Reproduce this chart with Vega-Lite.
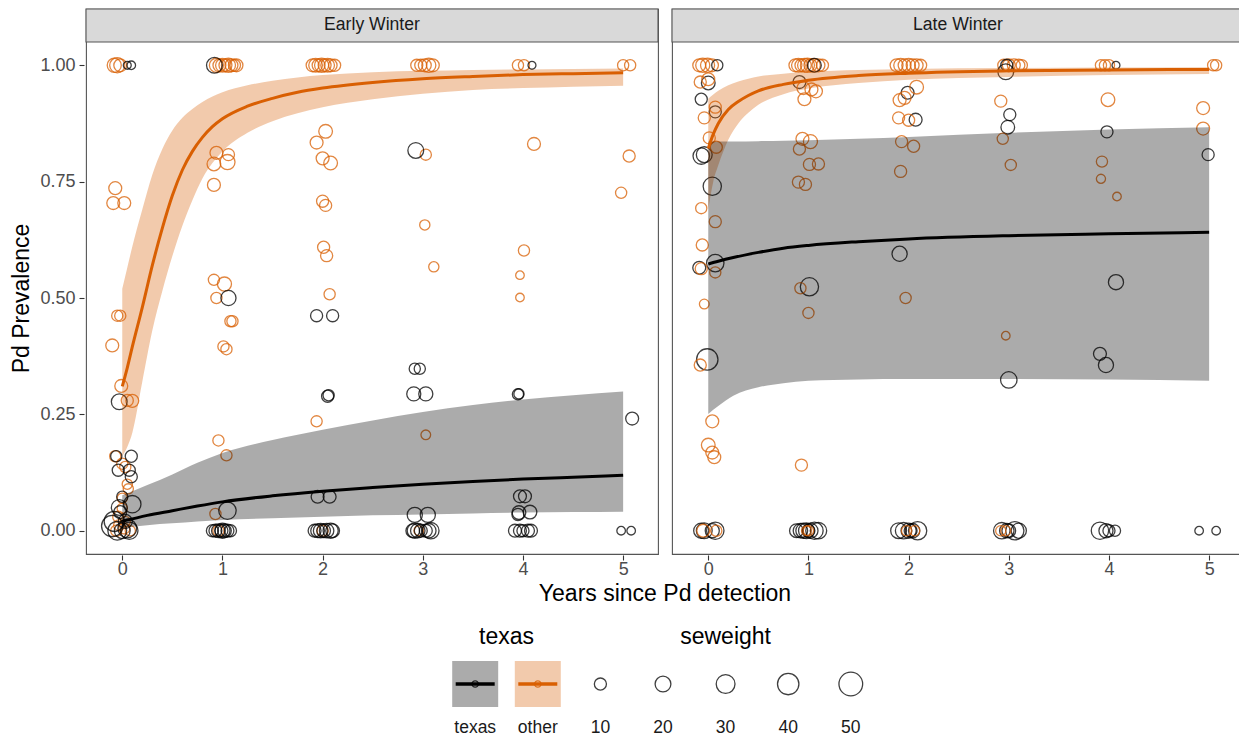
{
"$schema": "https://vega.github.io/schema/vega-lite/v6.json",
"background": "white",
"padding": {"left": 10, "top": 7, "right": 0, "bottom": 0},
"spacing": 14,
"datasets": {
"main": [
{"kind":"strip","season":"Early Winter"},
{"kind":"strip","season":"Late Winter"},
{"kind":"fit","season":"Early Winter","texas":"other","years":0,"est":0.31,"lo":0.16,"hi":0.52},
{"kind":"fit","season":"Early Winter","texas":"other","years":0.05,"est":0.35,"lo":0.18,"hi":0.565},
{"kind":"fit","season":"Early Winter","texas":"other","years":0.1,"est":0.395,"lo":0.21,"hi":0.61},
{"kind":"fit","season":"Early Winter","texas":"other","years":0.2,"est":0.48,"lo":0.32,"hi":0.69},
{"kind":"fit","season":"Early Winter","texas":"other","years":0.3,"est":0.57,"lo":0.43,"hi":0.765},
{"kind":"fit","season":"Early Winter","texas":"other","years":0.4,"est":0.65,"lo":0.515,"hi":0.82},
{"kind":"fit","season":"Early Winter","texas":"other","years":0.5,"est":0.72,"lo":0.59,"hi":0.86},
{"kind":"fit","season":"Early Winter","texas":"other","years":0.6,"est":0.775,"lo":0.655,"hi":0.887},
{"kind":"fit","season":"Early Winter","texas":"other","years":0.7,"est":0.815,"lo":0.71,"hi":0.906},
{"kind":"fit","season":"Early Winter","texas":"other","years":0.8,"est":0.845,"lo":0.757,"hi":0.921},
{"kind":"fit","season":"Early Winter","texas":"other","years":0.9,"est":0.868,"lo":0.79,"hi":0.933},
{"kind":"fit","season":"Early Winter","texas":"other","years":1.0,"est":0.885,"lo":0.815,"hi":0.942},
{"kind":"fit","season":"Early Winter","texas":"other","years":1.25,"est":0.912,"lo":0.855,"hi":0.957},
{"kind":"fit","season":"Early Winter","texas":"other","years":1.5,"est":0.929,"lo":0.88,"hi":0.967},
{"kind":"fit","season":"Early Winter","texas":"other","years":1.75,"est":0.942,"lo":0.897,"hi":0.974},
{"kind":"fit","season":"Early Winter","texas":"other","years":2.0,"est":0.951,"lo":0.91,"hi":0.979},
{"kind":"fit","season":"Early Winter","texas":"other","years":2.5,"est":0.963,"lo":0.927,"hi":0.985},
{"kind":"fit","season":"Early Winter","texas":"other","years":3.0,"est":0.971,"lo":0.939,"hi":0.988},
{"kind":"fit","season":"Early Winter","texas":"other","years":3.5,"est":0.976,"lo":0.947,"hi":0.99},
{"kind":"fit","season":"Early Winter","texas":"other","years":4.0,"est":0.98,"lo":0.951,"hi":0.991},
{"kind":"fit","season":"Early Winter","texas":"other","years":4.5,"est":0.982,"lo":0.954,"hi":0.992},
{"kind":"fit","season":"Early Winter","texas":"other","years":5.0,"est":0.984,"lo":0.956,"hi":0.993},
{"kind":"fit","season":"Early Winter","texas":"texas","years":0,"est":0.02,"lo":0.006,"hi":0.076},
{"kind":"fit","season":"Early Winter","texas":"texas","years":0.25,"est":0.033,"lo":0.012,"hi":0.098},
{"kind":"fit","season":"Early Winter","texas":"texas","years":0.5,"est":0.043,"lo":0.016,"hi":0.121},
{"kind":"fit","season":"Early Winter","texas":"texas","years":0.75,"est":0.053,"lo":0.02,"hi":0.146},
{"kind":"fit","season":"Early Winter","texas":"texas","years":1.0,"est":0.062,"lo":0.023,"hi":0.167},
{"kind":"fit","season":"Early Winter","texas":"texas","years":1.5,"est":0.075,"lo":0.027,"hi":0.195},
{"kind":"fit","season":"Early Winter","texas":"texas","years":2.0,"est":0.085,"lo":0.03,"hi":0.217},
{"kind":"fit","season":"Early Winter","texas":"texas","years":2.5,"est":0.093,"lo":0.033,"hi":0.237},
{"kind":"fit","season":"Early Winter","texas":"texas","years":3.0,"est":0.1,"lo":0.035,"hi":0.255},
{"kind":"fit","season":"Early Winter","texas":"texas","years":3.5,"est":0.106,"lo":0.037,"hi":0.27},
{"kind":"fit","season":"Early Winter","texas":"texas","years":4.0,"est":0.111,"lo":0.039,"hi":0.282},
{"kind":"fit","season":"Early Winter","texas":"texas","years":4.5,"est":0.115,"lo":0.04,"hi":0.291},
{"kind":"fit","season":"Early Winter","texas":"texas","years":5.0,"est":0.119,"lo":0.041,"hi":0.299},
{"kind":"fit","season":"Late Winter","texas":"other","years":0,"est":0.821,"lo":0.69,"hi":0.928},
{"kind":"fit","season":"Late Winter","texas":"other","years":0.05,"est":0.852,"lo":0.75,"hi":0.937},
{"kind":"fit","season":"Late Winter","texas":"other","years":0.1,"est":0.875,"lo":0.785,"hi":0.945},
{"kind":"fit","season":"Late Winter","texas":"other","years":0.2,"est":0.905,"lo":0.84,"hi":0.957},
{"kind":"fit","season":"Late Winter","texas":"other","years":0.3,"est":0.922,"lo":0.875,"hi":0.965},
{"kind":"fit","season":"Late Winter","texas":"other","years":0.4,"est":0.935,"lo":0.898,"hi":0.971},
{"kind":"fit","season":"Late Winter","texas":"other","years":0.5,"est":0.945,"lo":0.915,"hi":0.976},
{"kind":"fit","season":"Late Winter","texas":"other","years":0.75,"est":0.959,"lo":0.938,"hi":0.982},
{"kind":"fit","season":"Late Winter","texas":"other","years":1.0,"est":0.968,"lo":0.95,"hi":0.986},
{"kind":"fit","season":"Late Winter","texas":"other","years":1.5,"est":0.978,"lo":0.962,"hi":0.99},
{"kind":"fit","season":"Late Winter","texas":"other","years":2.0,"est":0.983,"lo":0.969,"hi":0.992},
{"kind":"fit","season":"Late Winter","texas":"other","years":3.0,"est":0.988,"lo":0.975,"hi":0.994},
{"kind":"fit","season":"Late Winter","texas":"other","years":4.0,"est":0.99,"lo":0.979,"hi":0.995},
{"kind":"fit","season":"Late Winter","texas":"other","years":5.0,"est":0.991,"lo":0.981,"hi":0.996},
{"kind":"fit","season":"Late Winter","texas":"texas","years":0,"est":0.573,"lo":0.251,"hi":0.836},
{"kind":"fit","season":"Late Winter","texas":"texas","years":0.1,"est":0.579,"lo":0.268,"hi":0.836},
{"kind":"fit","season":"Late Winter","texas":"texas","years":0.25,"est":0.587,"lo":0.29,"hi":0.836},
{"kind":"fit","season":"Late Winter","texas":"texas","years":0.5,"est":0.598,"lo":0.308,"hi":0.837},
{"kind":"fit","season":"Late Winter","texas":"texas","years":0.75,"est":0.607,"lo":0.317,"hi":0.838},
{"kind":"fit","season":"Late Winter","texas":"texas","years":1.0,"est":0.613,"lo":0.322,"hi":0.839},
{"kind":"fit","season":"Late Winter","texas":"texas","years":1.5,"est":0.621,"lo":0.325,"hi":0.842},
{"kind":"fit","season":"Late Winter","texas":"texas","years":2.0,"est":0.627,"lo":0.326,"hi":0.846},
{"kind":"fit","season":"Late Winter","texas":"texas","years":3.0,"est":0.634,"lo":0.326,"hi":0.855},
{"kind":"fit","season":"Late Winter","texas":"texas","years":4.0,"est":0.638,"lo":0.325,"hi":0.862},
{"kind":"fit","season":"Late Winter","texas":"texas","years":5.0,"est":0.641,"lo":0.322,"hi":0.867},
{"kind":"obs","season":"Early Winter","texas":"other","years":-0.08,"prev":1,"seweight":15},
{"kind":"obs","season":"Early Winter","texas":"other","years":-0.05,"prev":1,"seweight":18},
{"kind":"obs","season":"Early Winter","texas":"other","years":-0.02,"prev":1,"seweight":12},
{"kind":"obs","season":"Early Winter","texas":"other","years":0.94,"prev":1,"seweight":15},
{"kind":"obs","season":"Early Winter","texas":"other","years":0.97,"prev":1,"seweight":12},
{"kind":"obs","season":"Early Winter","texas":"other","years":1.0,"prev":1,"seweight":14},
{"kind":"obs","season":"Early Winter","texas":"other","years":1.03,"prev":1,"seweight":12},
{"kind":"obs","season":"Early Winter","texas":"other","years":1.06,"prev":1,"seweight":15},
{"kind":"obs","season":"Early Winter","texas":"other","years":1.09,"prev":1,"seweight":12},
{"kind":"obs","season":"Early Winter","texas":"other","years":1.12,"prev":1,"seweight":10},
{"kind":"obs","season":"Early Winter","texas":"other","years":1.14,"prev":1,"seweight":12},
{"kind":"obs","season":"Early Winter","texas":"other","years":1.9,"prev":1,"seweight":12},
{"kind":"obs","season":"Early Winter","texas":"other","years":1.93,"prev":1,"seweight":14},
{"kind":"obs","season":"Early Winter","texas":"other","years":1.96,"prev":1,"seweight":12},
{"kind":"obs","season":"Early Winter","texas":"other","years":1.99,"prev":1,"seweight":15},
{"kind":"obs","season":"Early Winter","texas":"other","years":2.02,"prev":1,"seweight":12},
{"kind":"obs","season":"Early Winter","texas":"other","years":2.05,"prev":1,"seweight":14},
{"kind":"obs","season":"Early Winter","texas":"other","years":2.08,"prev":1,"seweight":12},
{"kind":"obs","season":"Early Winter","texas":"other","years":2.12,"prev":1,"seweight":10},
{"kind":"obs","season":"Early Winter","texas":"other","years":2.94,"prev":1,"seweight":10},
{"kind":"obs","season":"Early Winter","texas":"other","years":2.98,"prev":1,"seweight":10},
{"kind":"obs","season":"Early Winter","texas":"other","years":3.02,"prev":1,"seweight":12},
{"kind":"obs","season":"Early Winter","texas":"other","years":3.06,"prev":1,"seweight":15},
{"kind":"obs","season":"Early Winter","texas":"other","years":3.1,"prev":1,"seweight":12},
{"kind":"obs","season":"Early Winter","texas":"other","years":3.95,"prev":1,"seweight":8},
{"kind":"obs","season":"Early Winter","texas":"other","years":4.01,"prev":1,"seweight":8},
{"kind":"obs","season":"Early Winter","texas":"other","years":5.0,"prev":1,"seweight":8},
{"kind":"obs","season":"Early Winter","texas":"other","years":5.07,"prev":1,"seweight":8},
{"kind":"obs","season":"Early Winter","texas":"texas","years":0.05,"prev":1,"seweight":2},
{"kind":"obs","season":"Early Winter","texas":"texas","years":0.09,"prev":1,"seweight":3},
{"kind":"obs","season":"Early Winter","texas":"texas","years":0.92,"prev":1,"seweight":20},
{"kind":"obs","season":"Early Winter","texas":"texas","years":4.09,"prev":1,"seweight":2},
{"kind":"obs","season":"Early Winter","texas":"other","years":-0.07,"prev":0.736,"seweight":12},
{"kind":"obs","season":"Early Winter","texas":"other","years":-0.09,"prev":0.704,"seweight":12},
{"kind":"obs","season":"Early Winter","texas":"other","years":0.02,"prev":0.704,"seweight":12},
{"kind":"obs","season":"Early Winter","texas":"other","years":0.915,"prev":0.743,"seweight":12},
{"kind":"obs","season":"Early Winter","texas":"other","years":0.915,"prev":0.788,"seweight":14},
{"kind":"obs","season":"Early Winter","texas":"other","years":1.05,"prev":0.792,"seweight":18},
{"kind":"obs","season":"Early Winter","texas":"other","years":0.94,"prev":0.812,"seweight":12},
{"kind":"obs","season":"Early Winter","texas":"other","years":1.06,"prev":0.808,"seweight":10},
{"kind":"obs","season":"Early Winter","texas":"other","years":1.94,"prev":0.834,"seweight":12},
{"kind":"obs","season":"Early Winter","texas":"other","years":2.03,"prev":0.858,"seweight":14},
{"kind":"obs","season":"Early Winter","texas":"other","years":2.0,"prev":0.8,"seweight":12},
{"kind":"obs","season":"Early Winter","texas":"other","years":2.08,"prev":0.79,"seweight":14},
{"kind":"obs","season":"Early Winter","texas":"other","years":2.0,"prev":0.708,"seweight":10},
{"kind":"obs","season":"Early Winter","texas":"other","years":2.03,"prev":0.699,"seweight":10},
{"kind":"obs","season":"Early Winter","texas":"other","years":2.01,"prev":0.609,"seweight":10},
{"kind":"obs","season":"Early Winter","texas":"other","years":2.04,"prev":0.591,"seweight":10},
{"kind":"obs","season":"Early Winter","texas":"other","years":2.07,"prev":0.508,"seweight":8},
{"kind":"obs","season":"Early Winter","texas":"other","years":3.03,"prev":0.808,"seweight":8},
{"kind":"obs","season":"Early Winter","texas":"other","years":3.02,"prev":0.657,"seweight":6},
{"kind":"obs","season":"Early Winter","texas":"other","years":3.11,"prev":0.567,"seweight":6},
{"kind":"obs","season":"Early Winter","texas":"other","years":4.11,"prev":0.831,"seweight":12},
{"kind":"obs","season":"Early Winter","texas":"other","years":4.01,"prev":0.602,"seweight":8},
{"kind":"obs","season":"Early Winter","texas":"other","years":3.97,"prev":0.549,"seweight":3},
{"kind":"obs","season":"Early Winter","texas":"other","years":3.97,"prev":0.501,"seweight":3},
{"kind":"obs","season":"Early Winter","texas":"other","years":5.06,"prev":0.805,"seweight":10},
{"kind":"obs","season":"Early Winter","texas":"other","years":4.98,"prev":0.726,"seweight":8},
{"kind":"obs","season":"Early Winter","texas":"other","years":0.915,"prev":0.539,"seweight":8},
{"kind":"obs","season":"Early Winter","texas":"other","years":1.02,"prev":0.53,"seweight":15},
{"kind":"obs","season":"Early Winter","texas":"other","years":0.94,"prev":0.5,"seweight":8},
{"kind":"obs","season":"Early Winter","texas":"other","years":-0.05,"prev":0.462,"seweight":8},
{"kind":"obs","season":"Early Winter","texas":"other","years":-0.02,"prev":0.462,"seweight":8},
{"kind":"obs","season":"Early Winter","texas":"other","years":1.08,"prev":0.45,"seweight":8},
{"kind":"obs","season":"Early Winter","texas":"other","years":1.1,"prev":0.45,"seweight":8},
{"kind":"obs","season":"Early Winter","texas":"other","years":1.01,"prev":0.396,"seweight":8},
{"kind":"obs","season":"Early Winter","texas":"other","years":1.04,"prev":0.39,"seweight":8},
{"kind":"obs","season":"Early Winter","texas":"other","years":-0.1,"prev":0.398,"seweight":12},
{"kind":"obs","season":"Early Winter","texas":"other","years":-0.01,"prev":0.311,"seweight":12},
{"kind":"obs","season":"Early Winter","texas":"other","years":0.05,"prev":0.28,"seweight":10},
{"kind":"obs","season":"Early Winter","texas":"other","years":0.1,"prev":0.279,"seweight":12},
{"kind":"obs","season":"Early Winter","texas":"other","years":0.96,"prev":0.194,"seweight":8},
{"kind":"obs","season":"Early Winter","texas":"other","years":1.04,"prev":0.162,"seweight":8},
{"kind":"obs","season":"Early Winter","texas":"other","years":1.94,"prev":0.235,"seweight":8},
{"kind":"obs","season":"Early Winter","texas":"other","years":3.03,"prev":0.206,"seweight":5},
{"kind":"obs","season":"Early Winter","texas":"other","years":0.93,"prev":0.036,"seweight":8},
{"kind":"obs","season":"Early Winter","texas":"other","years":-0.07,"prev":0.16,"seweight":8},
{"kind":"obs","season":"Early Winter","texas":"other","years":0.0,"prev":0.144,"seweight":8},
{"kind":"obs","season":"Early Winter","texas":"other","years":0.03,"prev":0.137,"seweight":8},
{"kind":"obs","season":"Early Winter","texas":"other","years":0.05,"prev":0.1,"seweight":6},
{"kind":"obs","season":"Early Winter","texas":"other","years":0.06,"prev":0.09,"seweight":6},
{"kind":"obs","season":"Early Winter","texas":"other","years":0.0,"prev":0.07,"seweight":6},
{"kind":"obs","season":"Early Winter","texas":"other","years":0.0,"prev":0.048,"seweight":6},
{"kind":"obs","season":"Early Winter","texas":"other","years":-0.04,"prev":0.03,"seweight":8},
{"kind":"obs","season":"Early Winter","texas":"other","years":0.03,"prev":0.02,"seweight":6},
{"kind":"obs","season":"Early Winter","texas":"other","years":-0.06,"prev":0.0,"seweight":8},
{"kind":"obs","season":"Early Winter","texas":"other","years":0.02,"prev":0.005,"seweight":8},
{"kind":"obs","season":"Early Winter","texas":"other","years":0.08,"prev":0.0,"seweight":6},
{"kind":"obs","season":"Early Winter","texas":"other","years":-0.03,"prev":0.012,"seweight":8},
{"kind":"obs","season":"Early Winter","texas":"other","years":0.96,"prev":0.0,"seweight":8},
{"kind":"obs","season":"Early Winter","texas":"other","years":2.0,"prev":0.0,"seweight":8},
{"kind":"obs","season":"Early Winter","texas":"other","years":2.96,"prev":0.0,"seweight":5},
{"kind":"obs","season":"Early Winter","texas":"texas","years":-0.03,"prev":0.277,"seweight":20},
{"kind":"obs","season":"Early Winter","texas":"texas","years":-0.06,"prev":0.16,"seweight":8},
{"kind":"obs","season":"Early Winter","texas":"texas","years":0.09,"prev":0.16,"seweight":10},
{"kind":"obs","season":"Early Winter","texas":"texas","years":-0.04,"prev":0.13,"seweight":10},
{"kind":"obs","season":"Early Winter","texas":"texas","years":0.07,"prev":0.13,"seweight":10},
{"kind":"obs","season":"Early Winter","texas":"texas","years":0.09,"prev":0.116,"seweight":10},
{"kind":"obs","season":"Early Winter","texas":"texas","years":0.0,"prev":0.073,"seweight":8},
{"kind":"obs","season":"Early Winter","texas":"texas","years":0.1,"prev":0.057,"seweight":25},
{"kind":"obs","season":"Early Winter","texas":"texas","years":-0.03,"prev":0.05,"seweight":20},
{"kind":"obs","season":"Early Winter","texas":"texas","years":-0.08,"prev":0.02,"seweight":35},
{"kind":"obs","season":"Early Winter","texas":"texas","years":-0.1,"prev":0.01,"seweight":40},
{"kind":"obs","season":"Early Winter","texas":"texas","years":-0.05,"prev":0.0,"seweight":30},
{"kind":"obs","season":"Early Winter","texas":"texas","years":0.0,"prev":0.0,"seweight":20},
{"kind":"obs","season":"Early Winter","texas":"texas","years":0.07,"prev":0.0,"seweight":25},
{"kind":"obs","season":"Early Winter","texas":"texas","years":0.03,"prev":0.02,"seweight":15},
{"kind":"obs","season":"Early Winter","texas":"texas","years":-0.02,"prev":0.04,"seweight":12},
{"kind":"obs","season":"Early Winter","texas":"texas","years":0.05,"prev":0.005,"seweight":30},
{"kind":"obs","season":"Early Winter","texas":"texas","years":1.05,"prev":0.043,"seweight":25},
{"kind":"obs","season":"Early Winter","texas":"texas","years":2.93,"prev":0.817,"seweight":20},
{"kind":"obs","season":"Early Winter","texas":"texas","years":1.06,"prev":0.5,"seweight":18},
{"kind":"obs","season":"Early Winter","texas":"texas","years":1.94,"prev":0.462,"seweight":10},
{"kind":"obs","season":"Early Winter","texas":"texas","years":2.1,"prev":0.462,"seweight":10},
{"kind":"obs","season":"Early Winter","texas":"texas","years":2.92,"prev":0.348,"seweight":8},
{"kind":"obs","season":"Early Winter","texas":"texas","years":2.97,"prev":0.348,"seweight":8},
{"kind":"obs","season":"Early Winter","texas":"texas","years":2.91,"prev":0.294,"seweight":15},
{"kind":"obs","season":"Early Winter","texas":"texas","years":3.03,"prev":0.294,"seweight":15},
{"kind":"obs","season":"Early Winter","texas":"texas","years":2.05,"prev":0.289,"seweight":10},
{"kind":"obs","season":"Early Winter","texas":"texas","years":2.06,"prev":0.291,"seweight":8},
{"kind":"obs","season":"Early Winter","texas":"texas","years":3.95,"prev":0.293,"seweight":8},
{"kind":"obs","season":"Early Winter","texas":"texas","years":3.96,"prev":0.294,"seweight":6},
{"kind":"obs","season":"Early Winter","texas":"texas","years":5.09,"prev":0.241,"seweight":12},
{"kind":"obs","season":"Early Winter","texas":"texas","years":1.95,"prev":0.073,"seweight":12},
{"kind":"obs","season":"Early Winter","texas":"texas","years":2.07,"prev":0.073,"seweight":12},
{"kind":"obs","season":"Early Winter","texas":"texas","years":2.92,"prev":0.034,"seweight":18},
{"kind":"obs","season":"Early Winter","texas":"texas","years":3.05,"prev":0.034,"seweight":18},
{"kind":"obs","season":"Early Winter","texas":"texas","years":3.97,"prev":0.074,"seweight":12},
{"kind":"obs","season":"Early Winter","texas":"texas","years":4.02,"prev":0.074,"seweight":12},
{"kind":"obs","season":"Early Winter","texas":"texas","years":3.96,"prev":0.039,"seweight":14},
{"kind":"obs","season":"Early Winter","texas":"texas","years":4.07,"prev":0.04,"seweight":14},
{"kind":"obs","season":"Early Winter","texas":"texas","years":3.95,"prev":0.035,"seweight":10},
{"kind":"obs","season":"Early Winter","texas":"texas","years":0.9,"prev":0,"seweight":10},
{"kind":"obs","season":"Early Winter","texas":"texas","years":0.93,"prev":0,"seweight":12},
{"kind":"obs","season":"Early Winter","texas":"texas","years":0.96,"prev":0,"seweight":14},
{"kind":"obs","season":"Early Winter","texas":"texas","years":0.99,"prev":0,"seweight":12},
{"kind":"obs","season":"Early Winter","texas":"texas","years":1.02,"prev":0,"seweight":14},
{"kind":"obs","season":"Early Winter","texas":"texas","years":1.05,"prev":0,"seweight":12},
{"kind":"obs","season":"Early Winter","texas":"texas","years":1.08,"prev":0,"seweight":10},
{"kind":"obs","season":"Early Winter","texas":"texas","years":1.0,"prev":0,"seweight":18},
{"kind":"obs","season":"Early Winter","texas":"texas","years":1.92,"prev":0,"seweight":12},
{"kind":"obs","season":"Early Winter","texas":"texas","years":1.95,"prev":0,"seweight":14},
{"kind":"obs","season":"Early Winter","texas":"texas","years":1.98,"prev":0,"seweight":16},
{"kind":"obs","season":"Early Winter","texas":"texas","years":2.01,"prev":0,"seweight":14},
{"kind":"obs","season":"Early Winter","texas":"texas","years":2.04,"prev":0,"seweight":16},
{"kind":"obs","season":"Early Winter","texas":"texas","years":2.08,"prev":0,"seweight":18},
{"kind":"obs","season":"Early Winter","texas":"texas","years":2.1,"prev":0,"seweight":14},
{"kind":"obs","season":"Early Winter","texas":"texas","years":2.9,"prev":0,"seweight":14},
{"kind":"obs","season":"Early Winter","texas":"texas","years":2.92,"prev":0,"seweight":18},
{"kind":"obs","season":"Early Winter","texas":"texas","years":2.95,"prev":0,"seweight":16},
{"kind":"obs","season":"Early Winter","texas":"texas","years":2.98,"prev":0,"seweight":12},
{"kind":"obs","season":"Early Winter","texas":"texas","years":3.03,"prev":0,"seweight":12},
{"kind":"obs","season":"Early Winter","texas":"texas","years":3.08,"prev":0,"seweight":22},
{"kind":"obs","season":"Early Winter","texas":"texas","years":3.06,"prev":0,"seweight":16},
{"kind":"obs","season":"Early Winter","texas":"texas","years":3.92,"prev":0,"seweight":12},
{"kind":"obs","season":"Early Winter","texas":"texas","years":3.97,"prev":0,"seweight":12},
{"kind":"obs","season":"Early Winter","texas":"texas","years":4.0,"prev":0,"seweight":10},
{"kind":"obs","season":"Early Winter","texas":"texas","years":4.05,"prev":0,"seweight":12},
{"kind":"obs","season":"Early Winter","texas":"texas","years":4.08,"prev":0,"seweight":12},
{"kind":"obs","season":"Early Winter","texas":"texas","years":4.98,"prev":0,"seweight":3},
{"kind":"obs","season":"Early Winter","texas":"texas","years":5.08,"prev":0,"seweight":3},
{"kind":"obs","season":"Late Winter","texas":"other","years":-0.09,"prev":1,"seweight":12},
{"kind":"obs","season":"Late Winter","texas":"other","years":-0.055,"prev":1,"seweight":15},
{"kind":"obs","season":"Late Winter","texas":"other","years":-0.007,"prev":1,"seweight":15},
{"kind":"obs","season":"Late Winter","texas":"other","years":0.037,"prev":1,"seweight":12},
{"kind":"obs","season":"Late Winter","texas":"other","years":0.87,"prev":1,"seweight":12},
{"kind":"obs","season":"Late Winter","texas":"other","years":0.9,"prev":1,"seweight":14},
{"kind":"obs","season":"Late Winter","texas":"other","years":0.93,"prev":1,"seweight":12},
{"kind":"obs","season":"Late Winter","texas":"other","years":0.96,"prev":1,"seweight":14},
{"kind":"obs","season":"Late Winter","texas":"other","years":0.99,"prev":1,"seweight":15},
{"kind":"obs","season":"Late Winter","texas":"other","years":1.02,"prev":1,"seweight":12},
{"kind":"obs","season":"Late Winter","texas":"other","years":1.05,"prev":1,"seweight":14},
{"kind":"obs","season":"Late Winter","texas":"other","years":1.1,"prev":1,"seweight":12},
{"kind":"obs","season":"Late Winter","texas":"other","years":1.14,"prev":1,"seweight":10},
{"kind":"obs","season":"Late Winter","texas":"other","years":1.88,"prev":1,"seweight":12},
{"kind":"obs","season":"Late Winter","texas":"other","years":1.92,"prev":1,"seweight":14},
{"kind":"obs","season":"Late Winter","texas":"other","years":1.96,"prev":1,"seweight":12},
{"kind":"obs","season":"Late Winter","texas":"other","years":2.0,"prev":1,"seweight":14},
{"kind":"obs","season":"Late Winter","texas":"other","years":2.04,"prev":1,"seweight":12},
{"kind":"obs","season":"Late Winter","texas":"other","years":2.08,"prev":1,"seweight":12},
{"kind":"obs","season":"Late Winter","texas":"other","years":2.12,"prev":1,"seweight":10},
{"kind":"obs","season":"Late Winter","texas":"other","years":2.95,"prev":1,"seweight":10},
{"kind":"obs","season":"Late Winter","texas":"other","years":3.0,"prev":1,"seweight":12},
{"kind":"obs","season":"Late Winter","texas":"other","years":3.05,"prev":1,"seweight":12},
{"kind":"obs","season":"Late Winter","texas":"other","years":3.1,"prev":1,"seweight":10},
{"kind":"obs","season":"Late Winter","texas":"other","years":3.13,"prev":1,"seweight":8},
{"kind":"obs","season":"Late Winter","texas":"other","years":3.92,"prev":1,"seweight":8},
{"kind":"obs","season":"Late Winter","texas":"other","years":3.96,"prev":1,"seweight":8},
{"kind":"obs","season":"Late Winter","texas":"other","years":4.0,"prev":1,"seweight":8},
{"kind":"obs","season":"Late Winter","texas":"other","years":5.04,"prev":1,"seweight":8},
{"kind":"obs","season":"Late Winter","texas":"other","years":5.07,"prev":1,"seweight":8},
{"kind":"obs","season":"Late Winter","texas":"texas","years":0.09,"prev":1,"seweight":8},
{"kind":"obs","season":"Late Winter","texas":"texas","years":1.06,"prev":1,"seweight":14},
{"kind":"obs","season":"Late Winter","texas":"texas","years":2.98,"prev":1,"seweight":10},
{"kind":"obs","season":"Late Winter","texas":"texas","years":4.07,"prev":1,"seweight":2},
{"kind":"obs","season":"Late Winter","texas":"texas","years":2.97,"prev":0.986,"seweight":20},
{"kind":"obs","season":"Late Winter","texas":"texas","years":0.0,"prev":0.962,"seweight":14},
{"kind":"obs","season":"Late Winter","texas":"texas","years":-0.07,"prev":0.927,"seweight":10},
{"kind":"obs","season":"Late Winter","texas":"texas","years":0.07,"prev":0.9,"seweight":10},
{"kind":"obs","season":"Late Winter","texas":"texas","years":-0.07,"prev":0.805,"seweight":22},
{"kind":"obs","season":"Late Winter","texas":"texas","years":-0.04,"prev":0.808,"seweight":20},
{"kind":"obs","season":"Late Winter","texas":"texas","years":0.04,"prev":0.74,"seweight":28},
{"kind":"obs","season":"Late Winter","texas":"texas","years":-0.09,"prev":0.565,"seweight":12},
{"kind":"obs","season":"Late Winter","texas":"texas","years":0.07,"prev":0.575,"seweight":25},
{"kind":"obs","season":"Late Winter","texas":"texas","years":-0.01,"prev":0.368,"seweight":40},
{"kind":"obs","season":"Late Winter","texas":"texas","years":0.91,"prev":0.964,"seweight":12},
{"kind":"obs","season":"Late Winter","texas":"texas","years":1.01,"prev":0.524,"seweight":28},
{"kind":"obs","season":"Late Winter","texas":"texas","years":1.99,"prev":0.941,"seweight":12},
{"kind":"obs","season":"Late Winter","texas":"texas","years":2.07,"prev":0.883,"seweight":12},
{"kind":"obs","season":"Late Winter","texas":"texas","years":1.91,"prev":0.595,"seweight":18},
{"kind":"obs","season":"Late Winter","texas":"texas","years":3.01,"prev":0.894,"seweight":10},
{"kind":"obs","season":"Late Winter","texas":"texas","years":2.99,"prev":0.867,"seweight":14},
{"kind":"obs","season":"Late Winter","texas":"texas","years":3.0,"prev":0.324,"seweight":22},
{"kind":"obs","season":"Late Winter","texas":"texas","years":3.98,"prev":0.857,"seweight":10},
{"kind":"obs","season":"Late Winter","texas":"texas","years":4.07,"prev":0.534,"seweight":18},
{"kind":"obs","season":"Late Winter","texas":"texas","years":3.91,"prev":0.38,"seweight":12},
{"kind":"obs","season":"Late Winter","texas":"texas","years":3.97,"prev":0.356,"seweight":18},
{"kind":"obs","season":"Late Winter","texas":"texas","years":4.99,"prev":0.808,"seweight":10},
{"kind":"obs","season":"Late Winter","texas":"texas","years":-0.07,"prev":0,"seweight":18},
{"kind":"obs","season":"Late Winter","texas":"texas","years":-0.04,"prev":0,"seweight":20},
{"kind":"obs","season":"Late Winter","texas":"texas","years":0.07,"prev":0,"seweight":25},
{"kind":"obs","season":"Late Winter","texas":"texas","years":0.04,"prev":0,"seweight":15},
{"kind":"obs","season":"Late Winter","texas":"texas","years":0.88,"prev":0,"seweight":14},
{"kind":"obs","season":"Late Winter","texas":"texas","years":0.92,"prev":0,"seweight":16},
{"kind":"obs","season":"Late Winter","texas":"texas","years":0.95,"prev":0,"seweight":18},
{"kind":"obs","season":"Late Winter","texas":"texas","years":0.98,"prev":0,"seweight":20},
{"kind":"obs","season":"Late Winter","texas":"texas","years":1.02,"prev":0,"seweight":18},
{"kind":"obs","season":"Late Winter","texas":"texas","years":1.06,"prev":0,"seweight":25},
{"kind":"obs","season":"Late Winter","texas":"texas","years":1.1,"prev":0,"seweight":22},
{"kind":"obs","season":"Late Winter","texas":"texas","years":1.0,"prev":0,"seweight":12},
{"kind":"obs","season":"Late Winter","texas":"texas","years":1.9,"prev":0,"seweight":20},
{"kind":"obs","season":"Late Winter","texas":"texas","years":1.95,"prev":0,"seweight":22},
{"kind":"obs","season":"Late Winter","texas":"texas","years":2.0,"prev":0,"seweight":18},
{"kind":"obs","season":"Late Winter","texas":"texas","years":2.04,"prev":0,"seweight":16},
{"kind":"obs","season":"Late Winter","texas":"texas","years":2.09,"prev":0,"seweight":28},
{"kind":"obs","season":"Late Winter","texas":"texas","years":2.02,"prev":0,"seweight":12},
{"kind":"obs","season":"Late Winter","texas":"texas","years":2.93,"prev":0,"seweight":22},
{"kind":"obs","season":"Late Winter","texas":"texas","years":2.98,"prev":0,"seweight":16},
{"kind":"obs","season":"Late Winter","texas":"texas","years":3.06,"prev":0,"seweight":28},
{"kind":"obs","season":"Late Winter","texas":"texas","years":3.1,"prev":0,"seweight":18},
{"kind":"obs","season":"Late Winter","texas":"texas","years":3.0,"prev":0,"seweight":14},
{"kind":"obs","season":"Late Winter","texas":"texas","years":3.91,"prev":0,"seweight":25},
{"kind":"obs","season":"Late Winter","texas":"texas","years":3.97,"prev":0,"seweight":15},
{"kind":"obs","season":"Late Winter","texas":"texas","years":4.0,"prev":0,"seweight":10},
{"kind":"obs","season":"Late Winter","texas":"texas","years":4.06,"prev":0,"seweight":8},
{"kind":"obs","season":"Late Winter","texas":"texas","years":4.9,"prev":0,"seweight":3},
{"kind":"obs","season":"Late Winter","texas":"texas","years":5.07,"prev":0,"seweight":3},
{"kind":"obs","season":"Late Winter","texas":"other","years":-0.08,"prev":0.964,"seweight":10},
{"kind":"obs","season":"Late Winter","texas":"other","years":0.0,"prev":0.97,"seweight":12},
{"kind":"obs","season":"Late Winter","texas":"other","years":-0.04,"prev":0.887,"seweight":10},
{"kind":"obs","season":"Late Winter","texas":"other","years":0.07,"prev":0.91,"seweight":10},
{"kind":"obs","season":"Late Winter","texas":"other","years":0.01,"prev":0.844,"seweight":10},
{"kind":"obs","season":"Late Winter","texas":"other","years":0.08,"prev":0.824,"seweight":10},
{"kind":"obs","season":"Late Winter","texas":"other","years":-0.07,"prev":0.693,"seweight":8},
{"kind":"obs","season":"Late Winter","texas":"other","years":0.07,"prev":0.664,"seweight":10},
{"kind":"obs","season":"Late Winter","texas":"other","years":-0.06,"prev":0.614,"seweight":10},
{"kind":"obs","season":"Late Winter","texas":"other","years":-0.07,"prev":0.563,"seweight":10},
{"kind":"obs","season":"Late Winter","texas":"other","years":0.07,"prev":0.555,"seweight":8},
{"kind":"obs","season":"Late Winter","texas":"other","years":-0.04,"prev":0.487,"seweight":5},
{"kind":"obs","season":"Late Winter","texas":"other","years":0.95,"prev":0.951,"seweight":12},
{"kind":"obs","season":"Late Winter","texas":"other","years":1.03,"prev":0.948,"seweight":12},
{"kind":"obs","season":"Late Winter","texas":"other","years":1.075,"prev":0.944,"seweight":12},
{"kind":"obs","season":"Late Winter","texas":"other","years":0.96,"prev":0.927,"seweight":12},
{"kind":"obs","season":"Late Winter","texas":"other","years":0.94,"prev":0.842,"seweight":12},
{"kind":"obs","season":"Late Winter","texas":"other","years":1.02,"prev":0.836,"seweight":15},
{"kind":"obs","season":"Late Winter","texas":"other","years":0.91,"prev":0.82,"seweight":10},
{"kind":"obs","season":"Late Winter","texas":"other","years":1.01,"prev":0.787,"seweight":10},
{"kind":"obs","season":"Late Winter","texas":"other","years":1.1,"prev":0.788,"seweight":10},
{"kind":"obs","season":"Late Winter","texas":"other","years":0.9,"prev":0.749,"seweight":10},
{"kind":"obs","season":"Late Winter","texas":"other","years":0.97,"prev":0.744,"seweight":10},
{"kind":"obs","season":"Late Winter","texas":"other","years":0.92,"prev":0.521,"seweight":8},
{"kind":"obs","season":"Late Winter","texas":"other","years":1.0,"prev":0.468,"seweight":8},
{"kind":"obs","season":"Late Winter","texas":"other","years":0.93,"prev":0.141,"seweight":10},
{"kind":"obs","season":"Late Winter","texas":"other","years":1.91,"prev":0.925,"seweight":12},
{"kind":"obs","season":"Late Winter","texas":"other","years":1.96,"prev":0.93,"seweight":12},
{"kind":"obs","season":"Late Winter","texas":"other","years":2.08,"prev":0.953,"seweight":14},
{"kind":"obs","season":"Late Winter","texas":"other","years":1.9,"prev":0.887,"seweight":10},
{"kind":"obs","season":"Late Winter","texas":"other","years":2.0,"prev":0.882,"seweight":10},
{"kind":"obs","season":"Late Winter","texas":"other","years":1.93,"prev":0.836,"seweight":10},
{"kind":"obs","season":"Late Winter","texas":"other","years":2.05,"prev":0.826,"seweight":10},
{"kind":"obs","season":"Late Winter","texas":"other","years":1.92,"prev":0.772,"seweight":10},
{"kind":"obs","season":"Late Winter","texas":"other","years":1.97,"prev":0.5,"seweight":8},
{"kind":"obs","season":"Late Winter","texas":"other","years":2.92,"prev":0.923,"seweight":10},
{"kind":"obs","season":"Late Winter","texas":"other","years":2.94,"prev":0.842,"seweight":8},
{"kind":"obs","season":"Late Winter","texas":"other","years":3.02,"prev":0.786,"seweight":8},
{"kind":"obs","season":"Late Winter","texas":"other","years":2.97,"prev":0.419,"seweight":3},
{"kind":"obs","season":"Late Winter","texas":"other","years":3.99,"prev":0.926,"seweight":14},
{"kind":"obs","season":"Late Winter","texas":"other","years":3.93,"prev":0.793,"seweight":8},
{"kind":"obs","season":"Late Winter","texas":"other","years":3.92,"prev":0.756,"seweight":4},
{"kind":"obs","season":"Late Winter","texas":"other","years":4.08,"prev":0.718,"seweight":3},
{"kind":"obs","season":"Late Winter","texas":"other","years":4.94,"prev":0.908,"seweight":12},
{"kind":"obs","season":"Late Winter","texas":"other","years":4.94,"prev":0.864,"seweight":12},
{"kind":"obs","season":"Late Winter","texas":"other","years":0.04,"prev":0.235,"seweight":12},
{"kind":"obs","season":"Late Winter","texas":"other","years":0.0,"prev":0.184,"seweight":14},
{"kind":"obs","season":"Late Winter","texas":"other","years":0.04,"prev":0.168,"seweight":12},
{"kind":"obs","season":"Late Winter","texas":"other","years":0.06,"prev":0.158,"seweight":12},
{"kind":"obs","season":"Late Winter","texas":"other","years":-0.08,"prev":0.356,"seweight":10},
{"kind":"obs","season":"Late Winter","texas":"other","years":-0.05,"prev":0,"seweight":12},
{"kind":"obs","season":"Late Winter","texas":"other","years":0.08,"prev":0,"seweight":8},
{"kind":"obs","season":"Late Winter","texas":"other","years":1.0,"prev":0,"seweight":6},
{"kind":"obs","season":"Late Winter","texas":"other","years":0.98,"prev":0,"seweight":5},
{"kind":"obs","season":"Late Winter","texas":"other","years":1.98,"prev":0,"seweight":6},
{"kind":"obs","season":"Late Winter","texas":"other","years":2.06,"prev":0,"seweight":6},
{"kind":"obs","season":"Late Winter","texas":"other","years":2.92,"prev":0,"seweight":6},
{"kind":"obs","season":"Late Winter","texas":"other","years":2.97,"prev":0,"seweight":6}
],
"legend": [
{"key":"texas","texas":"texas"},
{"key":"other","texas":"other"},
{"key":"10","seweight":10},
{"key":"20","seweight":20},
{"key":"30","seweight":30},
{"key":"40","seweight":40},
{"key":"50","seweight":50}
]
},
"vconcat": [
{
"data": {"name": "main"},
"facet": {"column": {"field": "season", "type": "nominal", "title": "Years since Pd detection", "sort": ["Early Winter", "Late Winter"], "header": {"labels": false, "titleOrient": "bottom", "titleFontSize": 23, "titleFontWeight": "normal", "titleColor": "#000000", "titlePadding": -5.5}}},
"spacing": {"column": 10},
"spec": {
"width": 572,
"height": 545,
"layer": [
{
"transform": [{"filter": "datum.kind == 'strip'"}],
"mark": {"type": "rect", "fill": "#D9D9D9", "stroke": "#555555", "strokeWidth": 1.1},
"encoding": {
"x": {"datum": -0.362, "type": "quantitative", "scale": {"domain": [-0.362, 5.348], "nice": false, "zero": false}},
"x2": {"datum": 5.348},
"y": {"datum": 1.05, "type": "quantitative", "scale": {"domain": [-0.05, 1.1209], "nice": false, "zero": false}},
"y2": {"datum": 1.1209}
}
},
{
"transform": [{"filter": "datum.kind == 'strip'"}],
"mark": {"type": "text", "fontSize": 17.6, "color": "#1A1A1A", "baseline": "middle", "align": "center"},
"encoding": {
"x": {"datum": 2.493, "type": "quantitative"},
"y": {"datum": 1.0855, "type": "quantitative"},
"text": {"field": "season", "type": "nominal"}
}
},
{
"transform": [{"filter": "datum.kind == 'obs'"}],
"mark": {"type": "point", "filled": false, "strokeWidth": 1.3, "opacity": 0.75},
"encoding": {
"x": {"field": "years", "type": "quantitative"},
"y": {"field": "prev", "type": "quantitative"},
"size": {"field": "seweight", "type": "quantitative", "scale": {"type": "linear", "domain": [0, 50], "range": [42, 562], "zero": false}, "legend": null},
"color": {"field": "texas", "type": "nominal", "scale": {"domain": ["texas", "other"], "range": ["#000000", "#D95F02"]}, "legend": null}
}
},
{
"transform": [{"filter": "datum.kind == 'fit'"}],
"mark": {"type": "area", "opacity": 0.33, "interpolate": "monotone"},
"encoding": {
"x": {"field": "years", "type": "quantitative"},
"y": {"field": "lo", "type": "quantitative"},
"y2": {"field": "hi"},
"color": {"field": "texas", "type": "nominal", "legend": null}
}
},
{
"transform": [{"filter": "datum.kind == 'fit'"}],
"mark": {"type": "line", "strokeWidth": 3, "interpolate": "monotone"},
"encoding": {
"x": {"field": "years", "type": "quantitative", "axis": {"values": [0, 1, 2, 3, 4, 5], "format": "d", "title": null, "labelPadding": 0}},
"y": {"field": "est", "type": "quantitative", "axis": {"values": [0, 0.25, 0.5, 0.75, 1], "format": ".2f", "title": "Pd Prevalence", "titlePadding": 6, "titleY": 289}},
"color": {"field": "texas", "type": "nominal", "legend": null}
}
}
]
}
},
{
"width": 1154,
"height": 92,
"data": {"name": "legend"},
"view": {"stroke": null},
"encoding": {
"x": {"field": "key", "type": "nominal", "sort": null, "scale": {"type": "band", "domain": ["_1", "_2", "_3", "_4", "_5", "texas", "other", "10", "20", "30", "40", "50", "_6", "_7", "_8", "_9", "_10"], "paddingInner": 0, "paddingOuter": 0.717}, "axis": {"orient": "bottom", "title": null, "domain": false, "ticks": false, "labelAngle": 0, "labelFontSize": 17.5, "labelColor": "#1A1A1A", "labelPadding": 6, "values": ["texas", "other", "10", "20", "30", "40", "50"]}},
"y": {"datum": 0.304, "type": "quantitative", "scale": {"domain": [0, 1]}, "axis": null}
},
"layer": [
{
"transform": [{"filter": "datum.texas != null"}],
"mark": {"type": "point", "shape": "square", "filled": true, "size": 2116, "opacity": 0.33, "strokeWidth": 0},
"encoding": {"color": {"field": "texas", "type": "nominal", "legend": null}}
},
{
"transform": [{"filter": "datum.texas != null"}],
"mark": {"type": "point", "shape": "M-1,0L1,0", "filled": false, "size": 1521, "strokeWidth": 3.5, "opacity": 1},
"encoding": {"color": {"field": "texas", "type": "nominal", "legend": null}}
},
{
"transform": [{"filter": "datum.texas != null"}],
"mark": {"type": "point", "shape": "circle", "filled": false, "size": 40, "strokeWidth": 1.3, "opacity": 0.8},
"encoding": {"color": {"field": "texas", "type": "nominal", "legend": null}}
},
{
"transform": [{"filter": "datum.seweight != null"}],
"mark": {"type": "point", "shape": "circle", "filled": false, "color": "#000000", "strokeWidth": 1.3, "opacity": 0.75},
"encoding": {"size": {"field": "seweight", "type": "quantitative", "legend": null}}
},
{
"data": {"values": [{"title": "texas"}]},
"mark": {"type": "text", "fontSize": 23, "color": "#000000", "align": "center", "baseline": "middle"},
"encoding": {
"x": {"datum": "other", "type": "nominal", "bandPosition": 0},
"y": {"datum": 0.815, "type": "quantitative"},
"text": {"field": "title", "type": "nominal"}
}
},
{
"data": {"values": [{"title": "seweight"}]},
"mark": {"type": "text", "fontSize": 23, "color": "#000000", "align": "center", "baseline": "middle"},
"encoding": {
"x": {"datum": "30", "type": "nominal"},
"y": {"datum": 0.815, "type": "quantitative"},
"text": {"field": "title", "type": "nominal"}
}
}
]
}
],
"config": {
"font": "Liberation Sans",
"view": {"stroke": "#555555", "strokeWidth": 1.1},
"axis": {"grid": false, "domain": false, "labelFontSize": 18, "labelColor": "#4D4D4D", "tickColor": "#333333", "tickSize": 5, "tickWidth": 1.1, "labelPadding": 4, "titleFontSize": 23, "titleFontWeight": "normal", "titleColor": "#000000"}
}
}
